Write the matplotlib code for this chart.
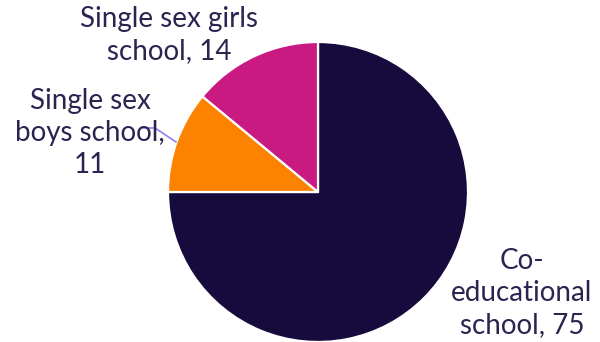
import matplotlib.pyplot as plt

categories = ["Co-educational school", "Single sex boys school", "Single sex girls school"]
values = [75, 11, 14]
label_lines = [["Co-", "educational", "school, {v}"],
               ["Single sex", "boys school,", "{v}"],
               ["Single sex girls", "school, {v}"]]
colors = ["#170b3d", "#fd8200", "#c91a82"]
text_color = "#2a2450"

W, H = 600, 342
fig = plt.figure(figsize=(W / 100, H / 100), dpi=100)
ax = fig.add_axes([0, 0, 1, 1])

cx, cy, r = 318, H - 192, 150
ax.pie(values, colors=colors, startangle=90, counterclock=False,
       center=(cx, cy), radius=r, frame=True,
       wedgeprops=dict(edgecolor="white", linewidth=1.6))

ax.set_xlim(0, W)
ax.set_ylim(0, H)
ax.set_aspect("equal")
ax.axis("off")

label_pos = [(522, H - 293), (90, H - 133), (169, H - 35)]
for lines, v, (x, y) in zip(label_lines, values, label_pos):
    txt = "\n".join(lines).format(v=v)
    ax.text(x, y, txt, ha="center", va="center", fontsize=20,
            family="Lato", color=text_color, linespacing=1.28)

# leader line for the small slice
ax.plot([143, 155, 176], [H - 128, H - 128, H - 142], color="#8f7ff0", lw=1.2)

fig.savefig("out.png", dpi=100)
